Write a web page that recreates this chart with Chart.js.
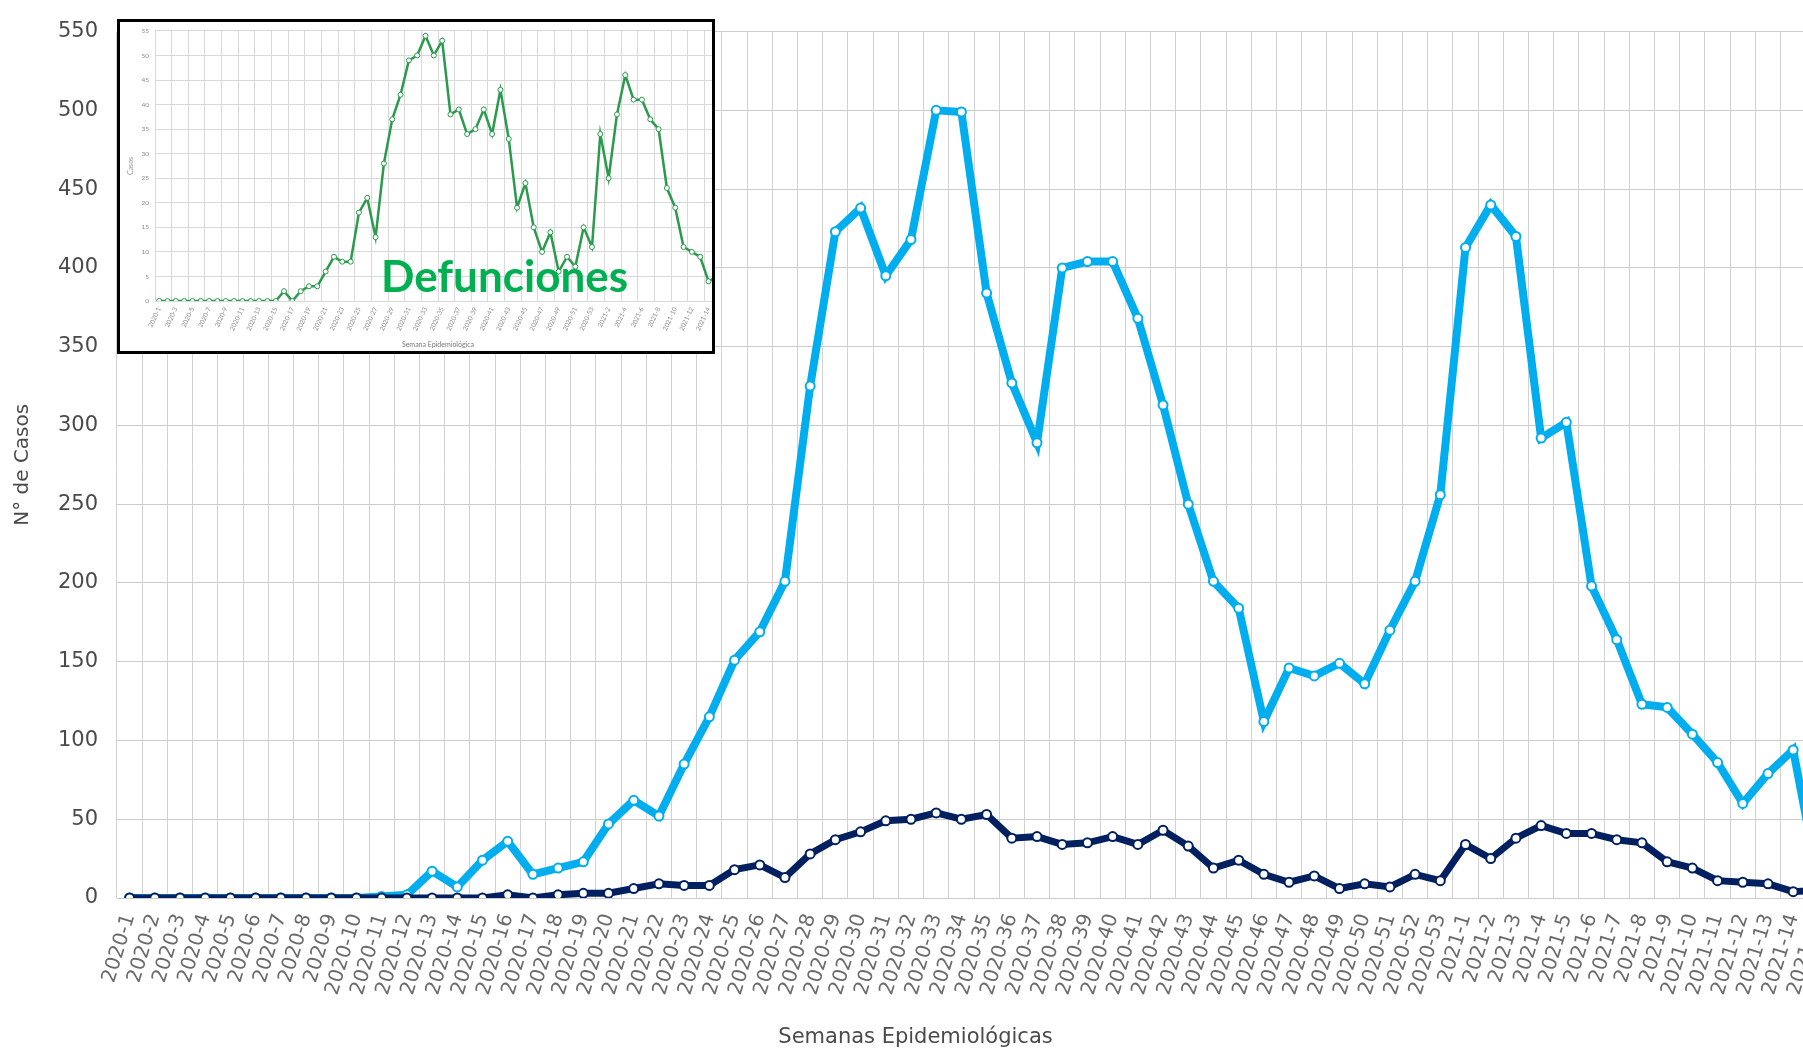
<!DOCTYPE html>
<html><head><meta charset="utf-8">
<script src="https://cdn.jsdelivr.net/npm/chart.js@4.4.1/dist/chart.umd.min.js"></script>
<style>
html,body{margin:0;padding:0;background:#fff;overflow:hidden;width:1803px;height:1050px;position:relative;}
#c1{position:absolute;left:0;top:0;}
#insetClip{position:absolute;left:118px;top:21px;width:595px;height:331px;overflow:hidden;background:#fff;}
#c2{position:absolute;left:0;top:0;}
#insetBorder{position:absolute;left:117px;top:19px;width:598px;height:335px;border:3px solid #000;box-sizing:border-box;}
#def{position:absolute;left:381px;top:249px;font-family:Lato,sans-serif;font-weight:bold;font-size:44px;color:#00b050;line-height:53px;white-space:nowrap;}
</style></head>
<body>
<canvas id="c1" width="1840" height="1050"></canvas>
<div id="insetClip"><canvas id="c2" width="612" height="331"></canvas></div>
<div id="insetBorder"></div>
<div id="def">Defunciones</div>
<script>
const weeks = ["2020-1","2020-2","2020-3","2020-4","2020-5","2020-6","2020-7","2020-8","2020-9","2020-10",
"2020-11","2020-12","2020-13","2020-14","2020-15","2020-16","2020-17","2020-18","2020-19","2020-20",
"2020-21","2020-22","2020-23","2020-24","2020-25","2020-26","2020-27","2020-28","2020-29","2020-30",
"2020-31","2020-32","2020-33","2020-34","2020-35","2020-36","2020-37","2020-38","2020-39","2020-40",
"2020-41","2020-42","2020-43","2020-44","2020-45","2020-46","2020-47","2020-48","2020-49","2020-50",
"2020-51","2020-52","2020-53","2021-1","2021-2","2021-3","2021-4","2021-5","2021-6","2021-7",
"2021-8","2021-9","2021-10","2021-11","2021-12","2021-13","2021-14","2021-15"];

const casos = [0,0,0,0,0,0,0,0,0,0,
1,2,17,7,24,36,15,19,23,47,
62,52,85,115,151,169,201,325,423,438,
395,418,500,499,384,327,289,400,404,404,
368,313,250,201,184,112,146,141,149,136,
170,201,256,413,440,420,292,302,198,164,
123,121,104,86,60,79,94,10];

const defunciones = [0,0,0,0,0,0,0,0,0,0,
0,0,0,0,0,2,0,2,3,3,
6,9,8,8,18,21,13,28,37,42,
49,50,54,50,53,38,39,34,35,39,
34,43,33,19,24,15,10,14,6,9,
7,15,11,34,25,38,46,41,41,37,
35,23,19,11,10,9,4,5];

const yTicks = [0,50,100,150,200,250,300,350,400,450,500,550];
const insetTicks = [0,5,10,15,20,25,30,35,40,45,50,55];

const FONT = '"DejaVu Sans", sans-serif';
const IFONT = 'Lato, sans-serif';

new Chart(document.getElementById('c1'), {
  type: 'line',
  data: {
    labels: weeks,
    datasets: [
      { label: 'Defunciones', data: defunciones, borderColor: '#002060', borderWidth: 7,
        pointRadius: 4.5, pointBorderWidth: 2, pointBackgroundColor: '#ffffff', pointBorderColor: '#002060', tension: 0 },
      { label: 'Casos', data: casos, borderColor: '#00aeef', borderWidth: 8,
        pointRadius: 4.5, pointBorderWidth: 2, pointBackgroundColor: '#ffffff', pointBorderColor: '#00aeef', tension: 0 }
    ]
  },
  options: {
    responsive: false, animation: false,
    layout: { padding: { top: 21, right: 9, bottom: 0, left: 0 } },
    plugins: {
      legend: { display: false }, tooltip: { enabled: false },
      title: { display: true, position: 'bottom', text: 'Semanas Epidemiológicas', color: '#4a4a4a',
               font: { family: FONT, size: 21, weight: 'normal' }, padding: { top: 0, bottom: 0 } }
    },
    scales: {
      x: {
        offset: true,
        grid: { offset: true, color: '#d2d2d2', lineWidth: 1, drawTicks: false },
        border: { display: false },
        ticks: { autoSkip: false, minRotation: 73, maxRotation: 73, padding: 13, color: '#6a6a6a',
                 font: { family: FONT, size: 20 } },
        afterFit: s => { s.height = 152 - 25.2; s.paddingLeft = 0; s.paddingRight = 0; }
      },
      y: {
        min: 0, max: 550,
        afterBuildTicks: s => { s.ticks = yTicks.map(v => ({ value: v })); },
        grid: { color: '#cccccc', lineWidth: 1, drawTicks: false },
        border: { display: false },
        ticks: { padding: 19, color: '#4a4a4a', font: { family: FONT, size: 21 } },
        title: { display: true, text: 'N° de Casos', color: '#4a4a4a',
                 font: { family: FONT, size: 20 }, padding: { top: 11, bottom: 0 } },
        afterFit: s => { s.width = 117; }
      }
    }
  }
});

new Chart(document.getElementById('c2'), {
  type: 'line',
  data: {
    labels: weeks,
    datasets: [
      { label: 'Defunciones', data: defunciones, borderColor: '#2a9a4c', borderWidth: 2.5,
        pointRadius: 2.5, pointBorderWidth: 1, pointBackgroundColor: '#ffffff', pointBorderColor: '#2a9a4c', tension: 0 }
    ]
  },
  options: {
    responsive: false, animation: false,
    layout: { padding: { top: 5, right: 9, bottom: 0, left: 0 } },
    plugins: { legend: { display: false }, tooltip: { enabled: false } },
    scales: {
      x: {
        offset: true,
        grid: { offset: true, drawTicks: false,
                color: ctx => (ctx.index % 2 === 0 ? '#d9d9d9' : 'rgba(0,0,0,0)') },
        border: { display: false },
        ticks: { autoSkip: false, minRotation: 65, maxRotation: 65, padding: 5, color: '#8a8a8a',
                 font: { family: IFONT, size: 6.5 },
                 callback: (v, i) => (i % 2 === 0 ? weeks[i] : '') },
        title: { display: true, text: 'Semana Epidemiológica', color: '#777777',
                 font: { family: IFONT, size: 7 }, padding: { top: 0, bottom: 3 } },
        afterFit: s => { s.height = 51; s.paddingLeft = 0; s.paddingRight = 0; }
      },
      y: {
        min: 0, max: 55,
        afterBuildTicks: s => { s.ticks = insetTicks.map(v => ({ value: v })); },
        grid: { color: '#d9d9d9', drawTicks: false },
        border: { display: false },
        ticks: { padding: 6, color: '#8a8a8a', font: { family: IFONT, size: 6.5 } },
        title: { display: true, text: 'Casos', color: '#999999',
                 font: { family: IFONT, size: 7 }, padding: { top: 9, bottom: 0 } },
        afterFit: s => { s.width = 37; }
      }
    }
  }
});
</script>
</body></html>
